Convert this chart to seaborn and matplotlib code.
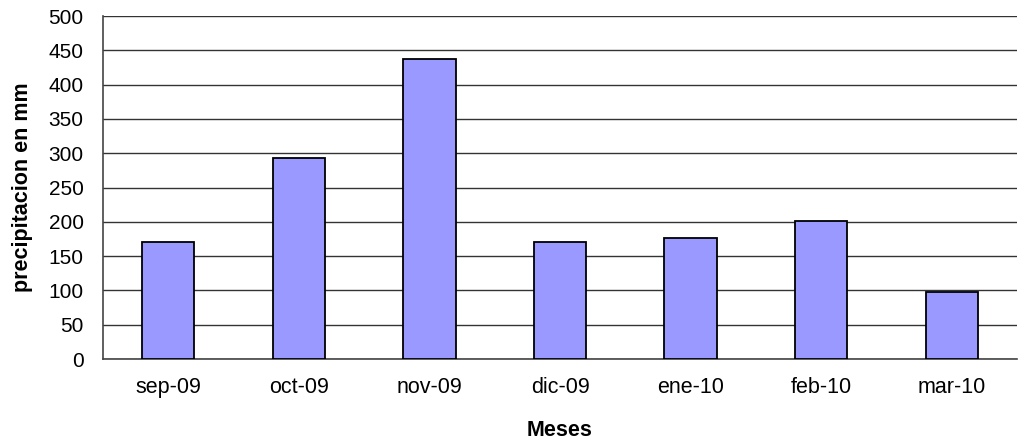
import numpy as np
import pandas as pd
import seaborn as sns
import matplotlib.pyplot as plt

meses = ["sep-09", "oct-09", "nov-09", "dic-09", "ene-10", "feb-10", "mar-10"]
precipitacion = [171, 293, 438, 171, 176, 201, 97]
y_ticks = list(range(0, 501, 50))

df = pd.DataFrame({"Meses": meses, "precipitacion": precipitacion})

sns.set_style("white")
plt.rcParams["font.family"] = ["Liberation Sans", "DejaVu Sans"]

fig = plt.figure(figsize=(10.18, 4.44), dpi=100)
ax = fig.add_axes([103 / 1018, 85 / 444, 914 / 1018, 343 / 444])

sns.barplot(data=df, x="Meses", y="precipitacion", color="#9999FF",
            edgecolor="black", linewidth=1.3, width=0.4, saturation=1, ax=ax, zorder=3)

ax.set_ylim(0, 500)
ax.set_xlim(-0.5, len(meses) - 0.5)
ax.set_yticks(y_ticks)
ax.yaxis.grid(True, color="#333333", linewidth=1.0, zorder=0)
ax.set_axisbelow(True)

# ticks between categories, like the original
ax.set_xticks(np.arange(-0.5, len(meses), 1.0), minor=True)
ax.tick_params(axis="x", which="major", length=0, pad=13, labelsize=15.5, labelcolor="black")
ax.tick_params(axis="x", which="minor", length=6, width=1, color="#444444", direction="out")
ax.tick_params(axis="y", length=7, width=1, color="#333333", direction="out", labelsize=15,
               pad=7, labelcolor="black")

for s in ["top", "right"]:
    ax.spines[s].set_visible(False)
ax.spines["left"].set_color("#444444")
ax.spines["bottom"].set_color("#444444")
ax.spines["left"].set_linewidth(1.2)
ax.spines["bottom"].set_linewidth(1.2)

ax.set_xlabel("Meses", fontsize=15.5, fontweight="bold", labelpad=16, color="black")
ax.set_ylabel("precipitacion en mm", fontsize=15.5, fontweight="bold", labelpad=11, color="black")

fig.savefig("out.png", dpi=100)
